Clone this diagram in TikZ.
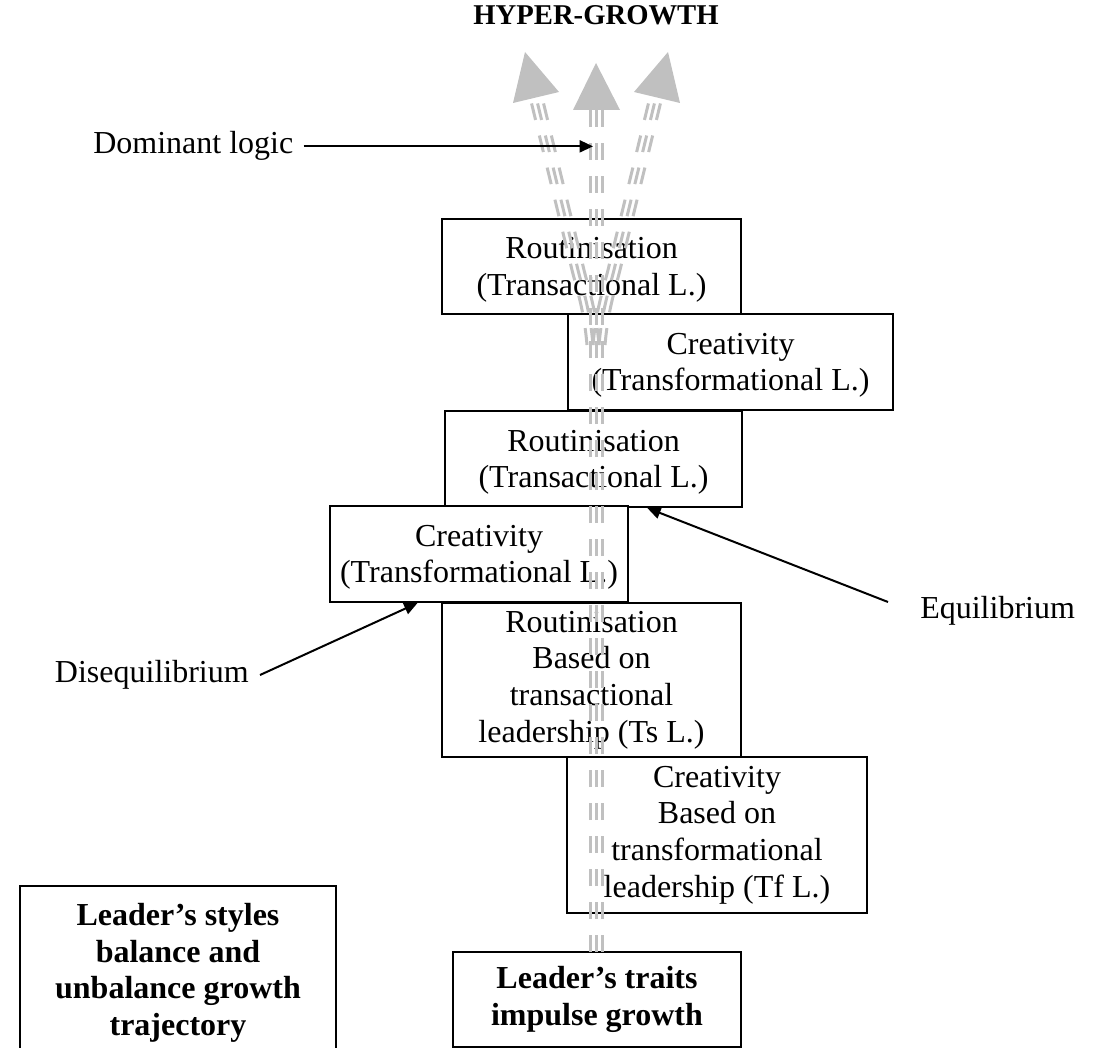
\documentclass[tikz,border=0pt]{standalone}
\usepackage{fontspec}
\setmainfont{Liberation Serif}
\usetikzlibrary{arrows.meta,calc}
\definecolor{arrgray}{RGB}{192,192,192}
\begin{document}
\begin{tikzpicture}[x=0.75pt,y=-0.75pt,
  box/.style={draw=black, line width=1.5pt, fill=white, inner sep=0pt, align=center,
    font=\fontsize{24}{27.5}\selectfont},
  boldbox/.style={box, font=\fontsize{24}{27.5}\selectfont\bfseries},
  lbl/.style={inner sep=0pt, font=\fontsize{24}{27.5}\selectfont},
  shaft/.style={draw=arrgray, line width=2.25pt, dash pattern=on 12.75pt off 12pt},
  head/.style={fill=arrgray, draw=none},
  pointer/.style={draw=black, line width=1.5pt, -{Triangle[length=10pt,width=9pt]}}]
\useasboundingbox (0,0) rectangle (1102,1048);
\clip (0,0) rectangle (1102,1048);

% boxes
\node[box, minimum width=224.25pt, minimum height=71.25pt] (b1) at (591.5,266.5)
  {\rule{0pt}{21pt}Routinisation\\(Transactional L.)};
\node[box, minimum width=243.75pt, minimum height=72pt] (b2) at (730.5,362)
  {\rule{0pt}{21pt}Creativity\\(Transformational L.)};
\node[box, minimum width=222.75pt, minimum height=72pt] (b3) at (593.5,459)
  {\rule{0pt}{21pt}Routinisation\\(Transactional L.)};
\node[box, minimum width=223.5pt, minimum height=72pt] (b4) at (479,554)
  {\rule{0pt}{21pt}Creativity\\(Transformational L.)};
\node[box, minimum width=224.25pt, minimum height=115.5pt] (b5) at (591.5,680)
  {Routinisation\\Based on\\transactional\\leadership (Ts L.)};
\node[box, minimum width=225pt, minimum height=117pt] (b6) at (717,835)
  {Creativity\\Based on\\transformational\\leadership (Tf L.)};
\node[boldbox, minimum width=216pt, minimum height=71.25pt] (b7) at (597,999.5)
  {Leader’s traits\\impulse growth};
\node[boldbox, minimum width=237pt, minimum height=130.5pt] (b8) at (178,973)
  {Leader’s styles\\balance and\\unbalance growth\\trajectory};

% gray growth arrows
\coordinate (cbase) at (596,952);
\coordinate (ctop) at (596,110);
\coordinate (lstart) at (593,345);
\coordinate (lend) at (536,97);
\coordinate (rstart) at (599,345);
\coordinate (rend) at (656,97);
\foreach \o in {-4.5,0,4.5}{
  \begin{scope}[transform canvas={xshift=\o pt}]
  \draw[shaft] (cbase) -- (ctop);
  \draw[shaft] (lstart) .. controls (590,310) and (583,290) .. (578,270) -- (lend);
  \draw[shaft] (rstart) .. controls (602,310) and (609,290) .. (614,270) -- (rend);
  \end{scope}
}
\fill[head] (525,52) -- (513,103) -- (559,92) -- cycle;
\fill[head] (596,63) -- (573,110) -- (620,110) -- cycle;
\fill[head] (668,52) -- (634,92) -- (680,103) -- cycle;

% labels
\node[lbl, font=\fontsize{21.5}{24}\selectfont\bfseries, anchor=base] (hyper) at (596,25) {HYPER-GROWTH};
\node[lbl, anchor=base west] (dom) at (93,154) {Dominant logic};
\node[lbl, anchor=base west] (equ) at (920,618) {Equilibrium};
\node[lbl, anchor=base east] (dis) at (249,682) {Disequilibrium};

% pointers
\coordinate (domtip) at (593,147);
\draw[pointer] ([xshift=7.5pt]dom.east) -- (dom.east -| domtip);
\coordinate (eqstart) at (888,602);
\draw[pointer] (eqstart) -- ($(b3.south west)!0.68!(b3.south east)$);
\coordinate (disstart) at (260,675);
\draw[pointer] (disstart) -- ($(b4.south west)!0.295!(b4.south east)$);
\end{tikzpicture}
\end{document}
